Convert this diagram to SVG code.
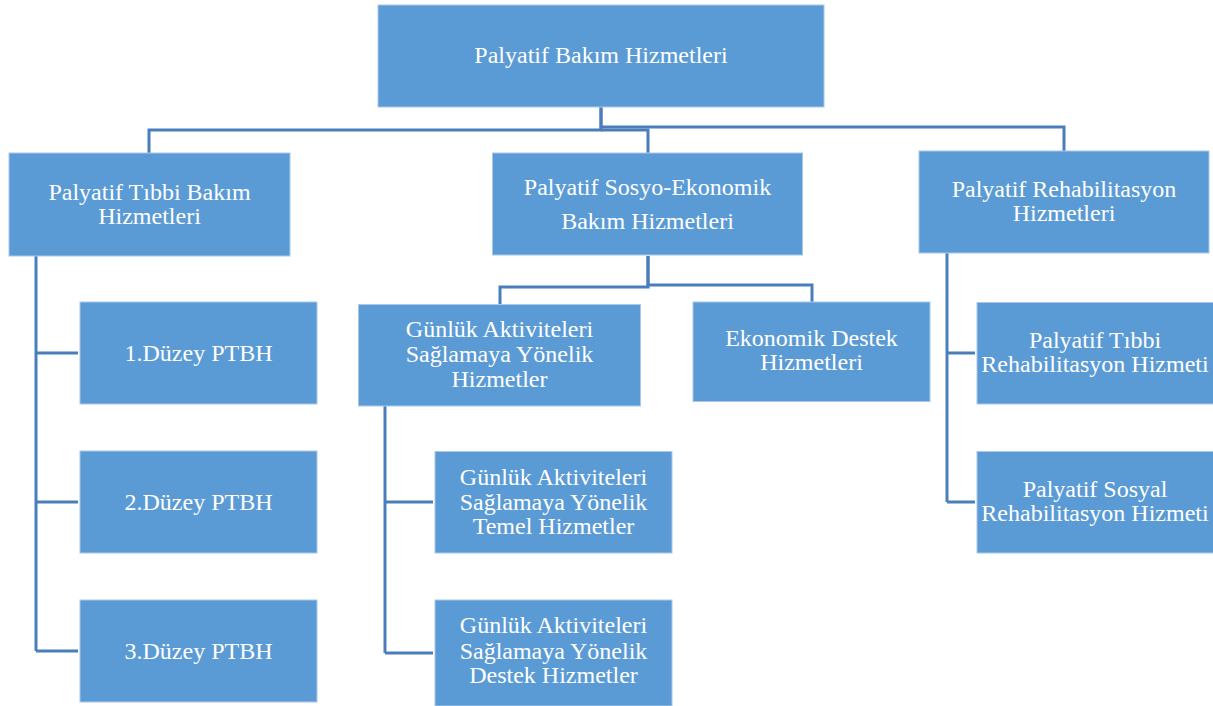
<svg xmlns="http://www.w3.org/2000/svg" width="1213" height="706" viewBox="0 0 1213 706">
<style>
.box{fill:#5B9BD5;stroke:#A9C8EA;stroke-width:1}
.t{font-family:"Liberation Serif","Times New Roman",serif;font-size:24px;fill:#FFFFFF;text-anchor:middle}
.c{fill:none;stroke:#4A7EBB;stroke-width:3}
</style>
<rect width="1213" height="706" fill="#FFFFFF"/>
<g id="connectors">
<path class="c" d="M601,107 V130 H149 V153"/>
<path class="c" d="M601,130 H648 V153"/>
<path class="c" d="M601,107 V127 H1064 V151"/>
<path class="c" d="M648,256 V287 H500 V305"/>
<path class="c" d="M648,256 V285 H812 V302"/>
<path class="c" d="M36,256 V651"/>
<path class="c" d="M36,353 H78 M36,502 H78 M36,651 H78"/>
<path class="c" d="M947,253 V502"/>
<path class="c" d="M947,353 H975 M947,502 H975"/>
<path class="c" d="M385,406 V653"/>
<path class="c" d="M385,502 H433 M385,653 H433"/>
</g>
<g id="root">
<rect class="box" x="378" y="5" width="446" height="102"/>
<text class="t" x="601" y="63">Palyatif Bakım Hizmetleri</text>
</g>
<g id="tibbi">
<rect class="box" x="9" y="153" width="281" height="103"/>
<text class="t" x="149.5" y="200">Palyatif Tıbbi Bakım</text>
<text class="t" x="149.5" y="224">Hizmetleri</text>
</g>
<g id="sosyo">
<rect class="box" x="492.5" y="153" width="310" height="102"/>
<text class="t" x="647.5" y="195">Palyatif Sosyo-Ekonomik</text>
<text class="t" x="647.5" y="229">Bakım Hizmetleri</text>
</g>
<g id="rehab">
<rect class="box" x="919" y="151" width="290" height="102"/>
<text class="t" x="1064" y="197">Palyatif Rehabilitasyon</text>
<text class="t" x="1064" y="221">Hizmetleri</text>
</g>
<g id="duzey1">
<rect class="box" x="80" y="302" width="237" height="102"/>
<text class="t" x="198.5" y="361">1.Düzey PTBH</text>
</g>
<g id="duzey2">
<rect class="box" x="80" y="451" width="237" height="102"/>
<text class="t" x="198.5" y="510">2.Düzey PTBH</text>
</g>
<g id="duzey3">
<rect class="box" x="80" y="600" width="237" height="102"/>
<text class="t" x="198.5" y="659">3.Düzey PTBH</text>
</g>
<g id="gunluk">
<rect class="box" x="358.5" y="304.5" width="282" height="101.5"/>
<text class="t" x="499.5" y="337">Günlük Aktiviteleri</text>
<text class="t" x="499.5" y="362">Sağlamaya Yönelik</text>
<text class="t" x="499.5" y="387">Hizmetler</text>
</g>
<g id="ekonomik">
<rect class="box" x="693" y="302" width="237" height="99.5"/>
<text class="t" x="811.5" y="346">Ekonomik Destek</text>
<text class="t" x="811.5" y="370">Hizmetleri</text>
</g>
<g id="temel">
<rect class="box" x="435" y="451.5" width="237" height="101.5"/>
<text class="t" x="553.5" y="485">Günlük Aktiviteleri</text>
<text class="t" x="553.5" y="510">Sağlamaya Yönelik</text>
<text class="t" x="553.5" y="534">Temel Hizmetler</text>
</g>
<g id="destek">
<rect class="box" x="435" y="600" width="237" height="106"/>
<text class="t" x="553.5" y="633">Günlük Aktiviteleri</text>
<text class="t" x="553.5" y="659">Sağlamaya Yönelik</text>
<text class="t" x="553.5" y="683">Destek Hizmetler</text>
</g>
<g id="tibbiRehab">
<rect class="box" x="977" y="302.5" width="237" height="101.5"/>
<text class="t" x="1095" y="348">Palyatif Tıbbi</text>
<text class="t" x="1095" y="372">Rehabilitasyon Hizmeti</text>
</g>
<g id="sosyalRehab">
<rect class="box" x="977" y="451.5" width="237" height="101.5"/>
<text class="t" x="1095" y="497">Palyatif Sosyal</text>
<text class="t" x="1095" y="521">Rehabilitasyon Hizmeti</text>
</g>
</svg>
